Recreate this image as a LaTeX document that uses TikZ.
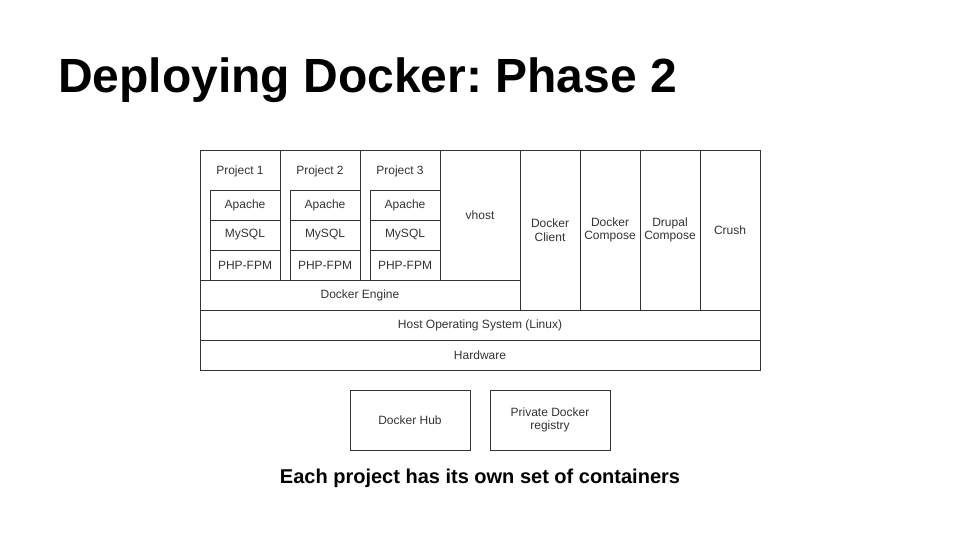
\documentclass[tikz,border=0pt]{standalone}
\usepackage{fontspec}
\setmainfont{Liberation Sans}
\usetikzlibrary{positioning}
\frenchspacing

\definecolor{linegray}{HTML}{333333}
\tikzset{
  box/.style={draw=linegray, line width=0.9pt, inner sep=0pt, outer sep=0pt, align=center,
    font=\fontsize{12}{13.5}\selectfont, text=linegray},
  boxtext/.style={inner sep=0pt, font=\fontsize{12}{13.5}\selectfont, text=linegray},
  cbox/.style={box, minimum width=70pt, minimum height=30pt},
}

\begin{document}
\begin{tikzpicture}[x=1pt,y=-1pt,node distance=0pt]
   \useasboundingbox[fill=white] (0,0) rectangle (960,540);
   \node[anchor=base west, inner sep=0pt, font=\bfseries\fontsize{48}{52}\selectfont] (title) at (58,93) {Deploying Docker: Phase 2};

   % projects, each with its own set of containers
   \foreach \i/\x in {1/200,2/280,3/360} {
     \node[box, minimum width=80pt, minimum height=130pt, anchor=north west] (p\i) at (\x,150) {};
     \node[boxtext] (pl\i) at (\x+40,171) {Project \i};
     \node[cbox, anchor=north west] (ap\i) at (\x+10,190) {Apache};
     \node[cbox] (my\i) [below=of ap\i] {MySQL};
     \node[cbox] (php\i) [below=of my\i] {PHP-FPM};
   }
   \node[box, minimum width=80pt, minimum height=130pt, anchor=north west] (vhost) at (440,150) {vhost};

   % tools next to the engine
   \node[box, minimum width=60pt, minimum height=160pt, anchor=north west] (client) at (520,150) {Docker\\Client};
   \node[box, minimum width=60pt, minimum height=160pt] (compose) [right=of client] {Docker\\Compose};
   \node[box, minimum width=60pt, minimum height=160pt] (drupal) [right=of compose] {Drupal\\Compose};
   \node[box, minimum width=60pt, minimum height=160pt] (crush) [right=of drupal] {Crush};

   \node[box, minimum width=320pt, minimum height=30pt, anchor=north west] (engine) at (200,280) {Docker Engine};
   \node[box, minimum width=560pt, minimum height=30pt, anchor=north west] (host) at (200,310) {Host Operating System (Linux)};
   \node[box, minimum width=560pt, minimum height=30pt] (hw) [below=of host] {Hardware};

   % registries
   \node[box, minimum width=120pt, minimum height=60pt, anchor=north west] (hub) at (350,390) {Docker Hub};
   \node[box, minimum width=120pt, minimum height=60pt, anchor=north west] (registry) at (490,390) {Private Docker\\registry};

   \node[anchor=base, inner sep=0pt, font=\bfseries\fontsize{20}{22}\selectfont] (caption) at (480,483) {Each project has its own set of containers};
\end{tikzpicture}
\end{document}
